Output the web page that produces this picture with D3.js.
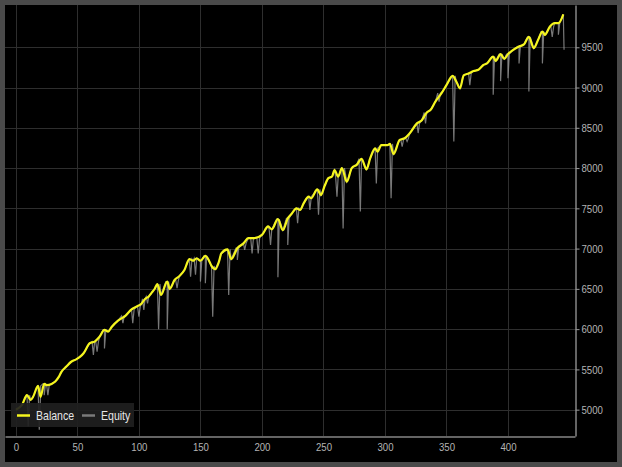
<!DOCTYPE html>
<html>
<head>
<meta charset="utf-8">
<script src="https://cdn.jsdelivr.net/npm/d3@7"></script>
<style>
  html, body { margin: 0; padding: 0; background: #4a4a4a; }
  svg { display: block; }
  text { font-family: "Liberation Sans", Arial, sans-serif; }
</style>
</head>
<body>
<div id="chart"></div>
<script>
// ---- data ----
const xTicks = [0, 50, 100, 150, 200, 250, 300, 350, 400];
const yTicks = [5000, 5500, 6000, 6500, 7000, 7500, 8000, 8500, 9000, 9500];
const seriesNames = ["Balance", "Equity"];

// balance: [trade index, balance]
const balance = [
  [0,5000],[5,5060],[9,5180],[12,5120],[14,5160],[18,5295],[20,5160],[23,5320],[25,5305],[29,5320],
  [32,5350],[35,5410],[37,5470],[41,5535],[45,5595],[49,5625],[52,5655],[55,5700],[60,5825],[64,5845],
  [68,5905],[72,5990],[75,5970],[78,6030],[83,6105],[89,6165],[94,6245],[98,6280],[102,6315],[105,6375],
  [108,6405],[110,6445],[113,6505],[115,6560],[118,6425],[123,6590],[125,6500],[129,6610],[133,6660],[137,6735],
  [141,6870],[144,6850],[147,6880],[150,6850],[154,6910],[157,6850],[159,6785],[162,6745],[165,6835],[167,6940],
  [172,6990],[175,6870],[180,7005],[185,7065],[189,7130],[194,7130],[200,7170],[205,7275],[208,7240],[213,7365],
  [217,7230],[221,7375],[224,7430],[228,7500],[231,7480],[234,7565],[238,7645],[240,7625],[245,7735],[248,7665],
  [251,7780],[254,7875],[257,7895],[259,7975],[262,7895],[265,8000],[269,7830],[273,8000],[277,8040],[281,8115],
  [285,7985],[288,8120],[292,8245],[294,8205],[297,8285],[302,8285],[304,8300],[307,8175],[312,8350],[316,8370],
  [320,8430],[326,8555],[330,8595],[334,8690],[337,8720],[341,8825],[346,8930],[350,9030],[355,9145],[358,9075],
  [361,8990],[364,9150],[368,9175],[372,9205],[376,9220],[380,9280],[383,9300],[388,9385],[390,9330],[394,9415],
  [397,9355],[400,9415],[404,9465],[409,9510],[413,9535],[417,9630],[421,9490],[425,9610],[428,9695],[430,9655],
  [434,9755],[438,9800],[441,9800],[445,9910]
];

// equity drawdown spikes: [trade index, lowest equity]
const equitySpikes = [
  [10,4790],[19,4750],[23,5180],[26,5180],[63,5680],[66,5720],[72,5760],[87,6075],[95,6075],[100,6155],
  [104,6240],[107,6320],[116,6000],[123,6000],[131,6510],[142,6650],[146,6675],[150,6590],[154,6570],[160,6155],
  [173,6425],[180,6860],[186,6985],[192,6940],[197,6940],[207,7045],[213,6645],[221,7045],[229,7315],[239,7480],
  [246,7420],[261,7645],[266,7250],[280,7460],[293,7810],[305,7625],[314,8265],[318,8330],[327,8435],[333,8555],
  [344,8825],[356,8330],[369,9030],[388,8910],[394,9080],[400,9115],[409,9300],[417,8950],[428,9300],[436,9630],
  [441,9655]
];
// final equity value
const equityEnd = [445.6, 9470];

// ---- layout ----
const W = 622, H = 467;
const plot = { left: 5, top: 5, right: 575, bottom: 436 };
const SX = 0.84; // horizontal text compression

const svg = d3.select("#chart").append("svg").attr("width", W).attr("height", H);

svg.append("rect").attr("width", W).attr("height", H).attr("fill", "#4a4a4a");
svg.append("rect").attr("x", 5).attr("y", 5).attr("width", W - 10).attr("height", H - 10).attr("fill", "#000");

const x = d3.scaleLinear().domain([-8.86, 454.5]).range([plot.left, plot.right]);
const y = d3.scaleLinear().domain([4673, 10025]).range([plot.bottom, plot.top]);

// grid
const grid = svg.append("g");
grid.selectAll("line.h").data(yTicks).join("line")
  .attr("x1", plot.left).attr("x2", plot.right)
  .attr("y1", d => Math.round(y(d)) + 0.5).attr("y2", d => Math.round(y(d)) + 0.5)
  .attr("stroke", "#2e2e2e").attr("stroke-width", 1);
grid.selectAll("line.v").data(xTicks).join("line")
  .attr("y1", plot.top).attr("y2", plot.bottom)
  .attr("x1", d => Math.round(x(d)) + 0.5).attr("x2", d => Math.round(x(d)) + 0.5)
  .attr("stroke", "#2e2e2e").attr("stroke-width", 1);

// equity series built from balance + spikes
function nearestBal(i) {
  let best = balance[0];
  for (const p of balance) if (Math.abs(p[0] - i) < Math.abs(best[0] - i)) best = p;
  return best[1];
}
const equity = balance.map(p => [p[0], p[1], 0]);
equitySpikes.forEach(([i, low]) => {
  const top = nearestBal(i);
  equity.push([i - 1.1, top, 1], [i, low, 2], [i + 1.1, top, 3]);
});
equity.push([equityEnd[0], equityEnd[1], 4]);
equity.sort((a, b) => a[0] - b[0] || a[2] - b[2]);

svg.append("clipPath").attr("id", "clip").append("rect")
  .attr("x", plot.left).attr("y", plot.top)
  .attr("width", plot.right - plot.left).attr("height", plot.bottom - plot.top);

const lines = svg.append("g").attr("clip-path", "url(#clip)");

lines.append("path")
  .datum(equity)
  .attr("fill", "none")
  .attr("stroke", "#a0a0a0")
  .attr("stroke-opacity", 0.75)
  .attr("stroke-width", 1.2)
  .attr("d", d3.line().x(d => x(d[0])).y(d => y(d[1])));

lines.append("path")
  .datum(balance)
  .attr("fill", "none")
  .attr("stroke", "#f5f51e")
  .attr("stroke-width", 2.2)
  .attr("stroke-linejoin", "round")
  .attr("d", d3.line().curve(d3.curveMonotoneX).x(d => x(d[0])).y(d => y(d[1])));

// axes
const yAxis = svg.append("g").attr("transform", `translate(${plot.right + 0.5},0)`)
  .call(d3.axisRight(y).tickValues(yTicks).tickSize(4).tickSizeOuter(0).tickPadding(2).tickFormat(d3.format("d")));
yAxis.select(".domain").attr("stroke", "#c8c8c8");
yAxis.selectAll(".tick line").attr("stroke", "#9a9a9a");
yAxis.selectAll(".tick text")
  .attr("fill", "#b4b4b4").attr("font-size", 11.5)
  .attr("font-family", '"Liberation Sans", Arial, sans-serif')
  .attr("x", 6 / SX)
  .attr("transform", `scale(${SX},1)`);

const xAxis = svg.append("g").attr("transform", `translate(0,${plot.bottom + 0.5})`)
  .call(d3.axisBottom(x).tickValues(xTicks).tickSize(0).tickSizeOuter(0).tickPadding(6).tickFormat(d3.format("d")));
xAxis.select(".domain").attr("stroke", "#c8c8c8");
xAxis.selectAll(".tick text")
  .attr("fill", "#b4b4b4").attr("font-size", 11.5)
  .attr("font-family", '"Liberation Sans", Arial, sans-serif')
  .attr("transform", `scale(${SX},1)`);

// legend
const lg = svg.append("g");
lg.append("rect").attr("x", 11).attr("y", 403).attr("width", 123).attr("height", 24)
  .attr("fill", "#202020").attr("fill-opacity", 0.92);
const legendColors = ["#f5f51e", "#7a7a7a"];
const legendX = [17, 82];
seriesNames.forEach((n, k) => {
  lg.append("line").attr("x1", legendX[k]).attr("x2", legendX[k] + 13)
    .attr("y1", 415.5).attr("y2", 415.5).attr("stroke", legendColors[k]).attr("stroke-width", 2.5);
  lg.append("text")
    .attr("transform", `translate(${legendX[k] + 19},419.5) scale(0.88,1)`)
    .attr("fill", "#e6e6e6").attr("font-size", 12)
    .attr("font-family", '"Liberation Sans", Arial, sans-serif')
    .text(n);
});
</script>
</body>
</html>
